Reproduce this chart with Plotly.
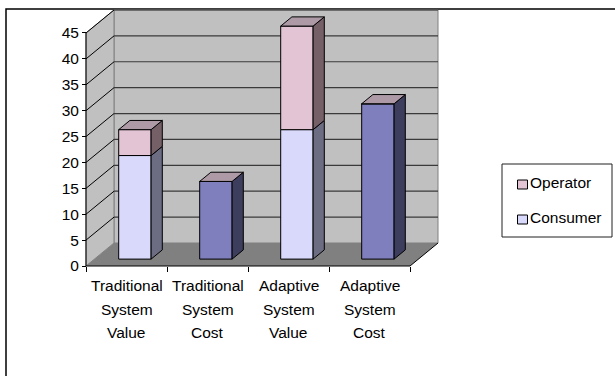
import plotly.graph_objects as go

# ---------------- data ----------------
categories = ["Traditional System Value", "Traditional System Cost",
              "Adaptive System Value", "Adaptive System Cost"]
series_names = ["Operator", "Consumer"]
consumer = [20, 15, 25, 30]
operator = [5, 0, 20, 0]
y_ticks = [0, 5, 10, 15, 20, 25, 30, 35, 40, 45]

# ---------------- style ----------------
FONT = "Liberation Sans, Arial, sans-serif"
FS = 15.5
W, H = 615, 376
ML, MR, MT, MB = 76, 173, 6, 104
PXX = 81.0      # px per category
PXY = 5.178     # px per value unit
OX, OY = 86, 266  # pixel of front origin
DX = 28 / PXX   # depth offset in category units
DY = 23 / PXY   # depth offset in value units
F, G = 0.3, 0.7  # front/back depth fraction of bars
HW = 0.2        # half bar width

plot_w = W - ML - MR
plot_h = H - MT - MB
xa = -(OX - ML) / PXX
xb = xa + plot_w / PXX
ya = -((H - MB) - OY) / PXY
yb = ya + plot_h / PXY
ymax = y_ticks[-1]
ncat = len(categories)


def px_x(p):
    return (p - ML) / plot_w


def px_y(p):
    return ((H - MB) - p) / plot_h


wall = "#C0C0C0"
floor = "#808080"
grid = "#3A3A3A"

cons_front = ["#D9D9FC" if "Value" in c else "#7F7FBD" for c in categories]
cons_side = ["#6C6C82" if "Value" in c else "#3D3D5E" for c in categories]
op_front = "#E2C4D4"
op_side = "#756068"
top_col = "#AD9AA6"
legend_cols = {"Operator": op_front, "Consumer": cons_front[0]}

fig = go.Figure()


def poly(xs, ys, color, z=1):
    fig.add_trace(go.Scatter(x=xs + [xs[0]], y=ys + [ys[0]], mode="lines",
                             fill="toself", fillcolor=color,
                             line=dict(color="black", width=1),
                             hoverinfo="skip", showlegend=False, zorder=z))


# front faces as bars
cx = [i + 0.5 + F * DX for i in range(ncat)]
fig.add_trace(go.Bar(x=cx, y=consumer, base=[F * DY] * ncat, width=2 * HW,
                     name="Consumer", marker=dict(color=cons_front, line=dict(color="black", width=1)),
                     showlegend=False, hoverinfo="skip", zorder=0))
fig.add_trace(go.Bar(x=cx, y=operator, base=[v + F * DY for v in consumer], width=2 * HW,
                     name="Operator", marker=dict(color=op_front, line=dict(color="black", width=1)),
                     showlegend=False, hoverinfo="skip", zorder=0))

# side and top faces
for i in range(ncat):
    c = i + 0.5
    xr_f = c + HW + F * DX
    xr_b = c + HW + G * DX
    segs = [(0, consumer[i], cons_side[i]),
            (consumer[i], consumer[i] + operator[i], op_side)]
    for b, t, col in segs:
        if t > b:
            poly([xr_f, xr_b, xr_b, xr_f],
                 [b + F * DY, b + G * DY, t + G * DY, t + F * DY], col)
    t = consumer[i] + operator[i]
    poly([c - HW + F * DX, c + HW + F * DX, c + HW + G * DX, c - HW + G * DX],
         [t + F * DY, t + F * DY, t + G * DY, t + G * DY], top_col)

shapes = []
# back wall
shapes.append(dict(type="rect", xref="x", yref="y", x0=DX, x1=ncat + DX, y0=DY, y1=ymax + DY,
                   fillcolor=wall, line=dict(color="#808080", width=1), layer="below"))
# left wall
shapes.append(dict(type="path", xref="x", yref="y",
                   path=f"M0,0 L{DX},{DY} L{DX},{ymax + DY} L0,{ymax} Z",
                   fillcolor=wall, line=dict(color="#808080", width=1), layer="below"))
# floor
shapes.append(dict(type="path", xref="x", yref="y",
                   path=f"M0,0 L{ncat},0 L{ncat + DX},{DY} L{DX},{DY} Z",
                   fillcolor=floor, line=dict(width=0), layer="below"))
# gridlines
for v in y_ticks[1:]:
    shapes.append(dict(type="line", xref="x", yref="y", x0=DX, x1=ncat + DX, y0=v + DY, y1=v + DY,
                       line=dict(color=grid, width=1.2), layer="below"))
    shapes.append(dict(type="line", xref="x", yref="y", x0=0, x1=DX, y0=v, y1=v + DY,
                       line=dict(color="black", width=1), layer="below"))
# floor edges & front axis
shapes.append(dict(type="line", xref="x", yref="y", x0=0, x1=ncat, y0=0, y1=0,
                   line=dict(color="black", width=1), layer="below"))
shapes.append(dict(type="line", xref="x", yref="y", x0=ncat, x1=ncat + DX, y0=0, y1=DY,
                   line=dict(color="black", width=1), layer="below"))
shapes.append(dict(type="line", xref="x", yref="y", x0=0, x1=0, y0=0, y1=ymax,
                   line=dict(color="black", width=1), layer="below"))
# outer chart border
shapes.append(dict(type="rect", xref="paper", yref="paper",
                   x0=px_x(6), x1=px_x(W + 10), y0=px_y(H + 10), y1=px_y(9),
                   line=dict(color="black", width=1.5), fillcolor="rgba(0,0,0,0)", layer="below"))

annotations = []
# category labels
line_px = [285.5, 309, 332.5]
for i, cat in enumerate(categories):
    for j, word in enumerate(cat.split()):
        annotations.append(dict(x=i + 0.5, y=px_y(line_px[j]), xref="x", yref="paper",
                                text=word, showarrow=False, xanchor="center", yanchor="middle",
                                font=dict(family=FONT, size=FS, color="black")))

# legend (box, swatches, labels)
shapes.append(dict(type="rect", xref="paper", yref="paper",
                   x0=px_x(502), x1=px_x(612), y0=px_y(237), y1=px_y(164),
                   line=dict(color="#202020", width=1), fillcolor="white", layer="above"))
for k, name in enumerate(series_names):
    cy = 184.5 + 35 * k
    shapes.append(dict(type="rect", xref="paper", yref="paper",
                       x0=px_x(517.5), x1=px_x(527.5), y0=px_y(cy + 4.5), y1=px_y(cy - 4.5),
                       line=dict(color="black", width=1), fillcolor=legend_cols[name], layer="above"))
    annotations.append(dict(x=px_x(528), y=px_y(cy - 2), xref="paper", yref="paper",
                            text=name, showarrow=False, xanchor="left", yanchor="middle",
                            font=dict(family=FONT, size=FS, color="black")))

fig.update_layout(
    template="none",
    width=W, height=H,
    margin=dict(l=ML, r=MR, t=MT, b=MB, pad=0),
    paper_bgcolor="white", plot_bgcolor="rgba(0,0,0,0)",
    barmode="overlay",
    font=dict(family=FONT, size=FS, color="black"),
    shapes=shapes,
    annotations=annotations,
    showlegend=False,
    xaxis=dict(range=[xa, xb], showgrid=False, zeroline=False, showline=False,
               anchor="free", position=(0 - ya) / (yb - ya),
               tickmode="array", tickvals=list(range(ncat + 1)), ticktext=[""] * (ncat + 1),
               ticks="outside", ticklen=5, tickcolor="black", tickwidth=1, automargin=False),
    yaxis=dict(range=[ya, yb], showgrid=False, zeroline=False, showline=False,
               anchor="free", position=(0 - xa) / (xb - xa),
               tickmode="array", tickvals=y_ticks, ticks="outside", ticklen=4,
               tickcolor="black", tickwidth=1, automargin=False,
               tickfont=dict(family=FONT, size=FS, color="black")),
)

fig.write_html("out.html")
